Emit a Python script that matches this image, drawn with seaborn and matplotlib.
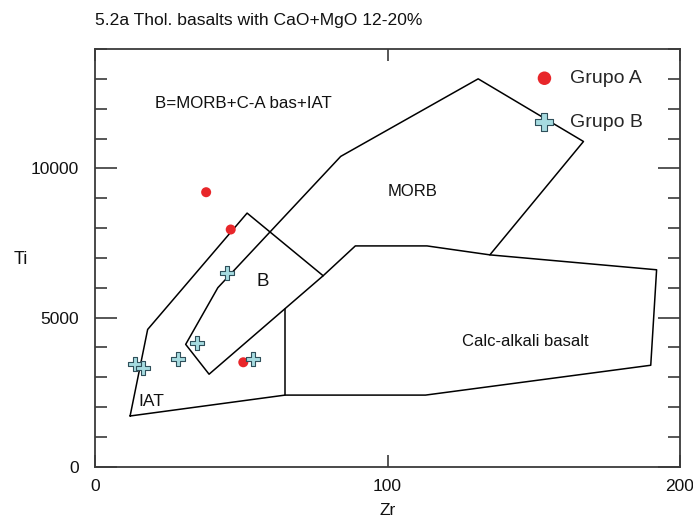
import matplotlib
matplotlib.use("Agg")
import matplotlib.pyplot as plt
from matplotlib.ticker import MultipleLocator
import numpy as np
import pandas as pd
import seaborn as sns

# ---- data ----
grupo_a_zr = [38.0, 46.4, 50.7]
grupo_a_ti = [9200, 7950, 3500]

grupo_b_zr = [45.0, 35.0, 54.0, 28.3, 13.7, 16.3]
grupo_b_ti = [6500, 4150, 3600, 3600, 3450, 3300]

# field boundaries (Zr, Ti)
outer_zr = [12, 18, 52, 78, 89, 113.5, 135, 192, 190, 113, 65, 12]
outer_ti = [1700, 4600, 8500, 6400, 7400, 7400, 7100, 6600, 3400, 2400, 2400, 1700]

morb_zr = [78, 39, 31, 42, 84, 131, 167, 135]
morb_ti = [6400, 3100, 4100, 6000, 10400, 13000, 10900, 7100]

cab_div_zr = [65, 65]
cab_div_ti = [5300, 2400]

field_labels = ["B=MORB+C-A bas+IAT", "MORB", "B", "IAT", "Calc-alkali basalt"]
field_label_zr = [50.6, 108.7, 57.3, 19.4, 147.0]
field_label_ti = [12180, 9220, 6210, 2180, 4200]
field_label_size = [12.2, 12.0, 13.5, 12.5, 12.0]

title = "5.2a Thol. basalts with CaO+MgO 12-20%"

# ---- plot ----
sns.set_style("white")
plt.rcParams["font.family"] = ["Liberation Sans", "DejaVu Sans"]

W, H = 693, 519
fig = plt.figure(figsize=(W / 100, H / 100), dpi=100)
ax = fig.add_axes([95 / W, 1 - 466.7 / H, 585 / W, 417.7 / H])

for xs, ys in [(outer_zr, outer_ti), (morb_zr, morb_ti), (cab_div_zr, cab_div_ti)]:
    sns.lineplot(x=xs, y=ys, sort=False, estimator=None, color="black",
                 linewidth=1.1, ax=ax)

sns.scatterplot(x=grupo_a_zr, y=grupo_a_ti, marker="o", s=52, color="#e8262a",
                edgecolor="none", label="Grupo A", ax=ax, zorder=5)
sns.scatterplot(x=grupo_b_zr, y=grupo_b_ti, marker="P", s=95, color="#a6dbe0",
                edgecolor="#2f4f5a", linewidth=0.8, label="Grupo B", ax=ax, zorder=5)

for t, x, y, fs in zip(field_labels, field_label_zr, field_label_ti, field_label_size):
    ax.text(x, y, t, fontsize=fs, ha="center", va="center", color="#111111")

ax.set_xlim(0, 200)
ax.set_ylim(0, 14000)
ax.xaxis.set_major_locator(MultipleLocator(100))
ax.yaxis.set_major_locator(MultipleLocator(5000))
ax.yaxis.set_minor_locator(MultipleLocator(1000))

for sp in ax.spines.values():
    sp.set_color("#3a3a3a")
    sp.set_linewidth(1.3)

ax.tick_params(axis="y", which="major", direction="in", length=16, width=1.2,
               left=True, right=True, labelsize=12.5, pad=11.5, color="#3a3a3a",
               labelcolor="#111111")
ax.tick_params(axis="y", which="minor", direction="in", length=8.5, width=1.2,
               left=True, right=True, color="#3a3a3a")
ax.tick_params(axis="x", which="major", direction="in", length=8.5, width=1.2,
               top=True, bottom=True, labelsize=12.5, pad=9, color="#3a3a3a",
               labelcolor="#111111")

ax.set_xlabel("Zr", fontsize=12.5, color="#111111")
ax.xaxis.label.set_va("center")
ax.xaxis.set_label_coords(0.5, -0.104)
ax.set_ylabel("Ti", fontsize=13, rotation=0, color="#111111")
ax.yaxis.label.set_va("center")
ax.yaxis.label.set_ha("center")
ax.yaxis.set_label_coords(-0.127, 0.495)

fig.text(95 / W, 1 - 20.5 / H, title, fontsize=12.6, ha="left", va="center",
         color="#111111")

ax.legend(loc="upper left", bbox_to_anchor=(525 / W, 1 - 60 / H),
          bbox_transform=fig.transFigure, frameon=False, fontsize=14,
          handlelength=1.0, handletextpad=0.84, borderpad=0,
          labelspacing=1.36, markerscale=1.35)

fig.savefig("out.png", dpi=100)
